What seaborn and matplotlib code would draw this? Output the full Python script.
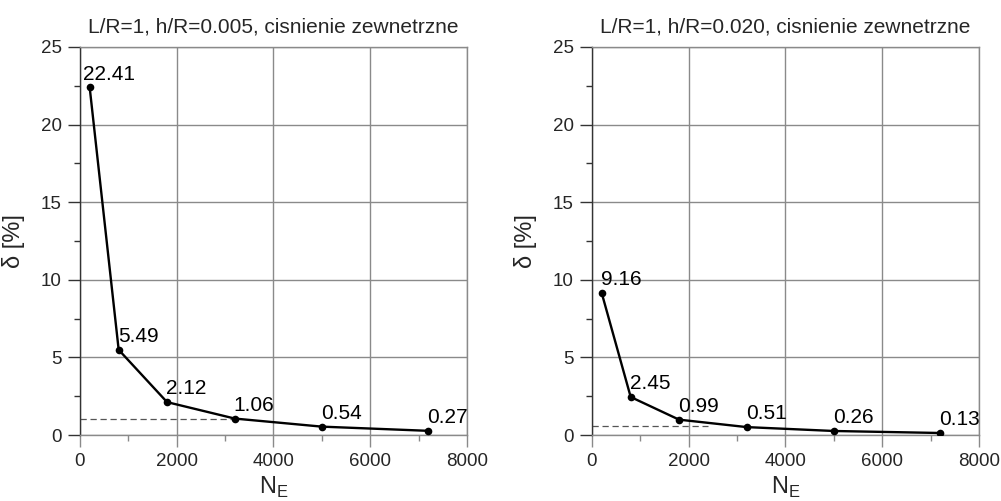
import matplotlib
matplotlib.use("Agg")
import matplotlib.pyplot as plt
import seaborn as sns
import pandas as pd
from matplotlib.ticker import MultipleLocator

# ---- data ----
n_e = [200, 800, 1800, 3200, 5000, 7200]
delta_h005 = [22.41, 5.49, 2.12, 1.06, 0.54, 0.27]
delta_h020 = [9.16, 2.45, 0.99, 0.51, 0.26, 0.13]
titles = ["L/R=1, h/R=0.005, cisnienie zewnetrzne",
          "L/R=1, h/R=0.020, cisnienie zewnetrzne"]
ref_level = [1.06, 0.58]     # dashed reference level (δ)
ref_end = [3200, 2400]       # dashed line end (N_E)
x_ticks = [0, 2000, 4000, 6000, 8000]
y_ticks = [0, 5, 10, 15, 20, 25]

sns.set_theme(style="white")
plt.rcParams['font.family'] = ['Liberation Sans', 'DejaVu Sans']
plt.rcParams['mathtext.fontset'] = 'custom'
plt.rcParams['mathtext.rm'] = 'Liberation Sans'

fig = plt.figure(figsize=(10.01, 5.01), dpi=100)
axes = [fig.add_axes([0.0799, 0.1317, 0.3866, 0.7745]),
        fig.add_axes([0.5914, 0.1317, 0.3866, 0.7745])]

GRID = '#8a8a8a'
for i, (ax, d) in enumerate(zip(axes, [delta_h005, delta_h020])):
    df = pd.DataFrame({'N_E': n_e, 'delta': d})
    ax.plot([0, ref_end[i]], [ref_level[i], ref_level[i]], ls=(0, (5, 3)),
            color='#555555', lw=0.9, zorder=2)
    sns.lineplot(data=df, x='N_E', y='delta', ax=ax, color='black', lw=1.7,
                 marker='o', markersize=5.5, markeredgewidth=0, zorder=3)
    for j, (xv, yv) in enumerate(zip(n_e, d)):
        dx = -5 if (i == 0 and j == 0) else -0.7
        ax.annotate(f'{yv:.2f}', (xv, yv), xytext=(dx, 5.5),
                    textcoords='offset points', ha='left', va='baseline',
                    fontsize=15, color='black', zorder=4)
    ax.set_xlim(x_ticks[0], x_ticks[-1])
    ax.set_ylim(y_ticks[0], y_ticks[-1])
    ax.set_xticks(x_ticks)
    ax.set_yticks(y_ticks)
    ax.xaxis.set_minor_locator(MultipleLocator(1000))
    ax.yaxis.set_minor_locator(MultipleLocator(2.5))
    ax.grid(True, which='major', color=GRID, lw=1.0)
    ax.set_axisbelow(True)
    for s in ax.spines.values():
        s.set_color(GRID)
        s.set_linewidth(1.0)
    ax.spines['left'].set_color('#333333')
    ax.tick_params(which='major', direction='out', length=8.8, width=1.0,
                   color=GRID, labelsize=13.5, pad=4.5, bottom=True, left=True)
    ax.tick_params(which='minor', direction='out', length=4.4, width=1.0,
                   color=GRID, bottom=True, left=True)
    ax.tick_params(axis='y', which='both', color='#333333')
    ax.set_title(titles[i], fontsize=15, pad=10.5)
    ax.set_xlabel(r'N$_\mathregular{E}$', fontsize=17, labelpad=3)
    ax.set_ylabel('δ [%]', fontsize=17, labelpad=11)

fig.savefig('out.png', dpi=100)
